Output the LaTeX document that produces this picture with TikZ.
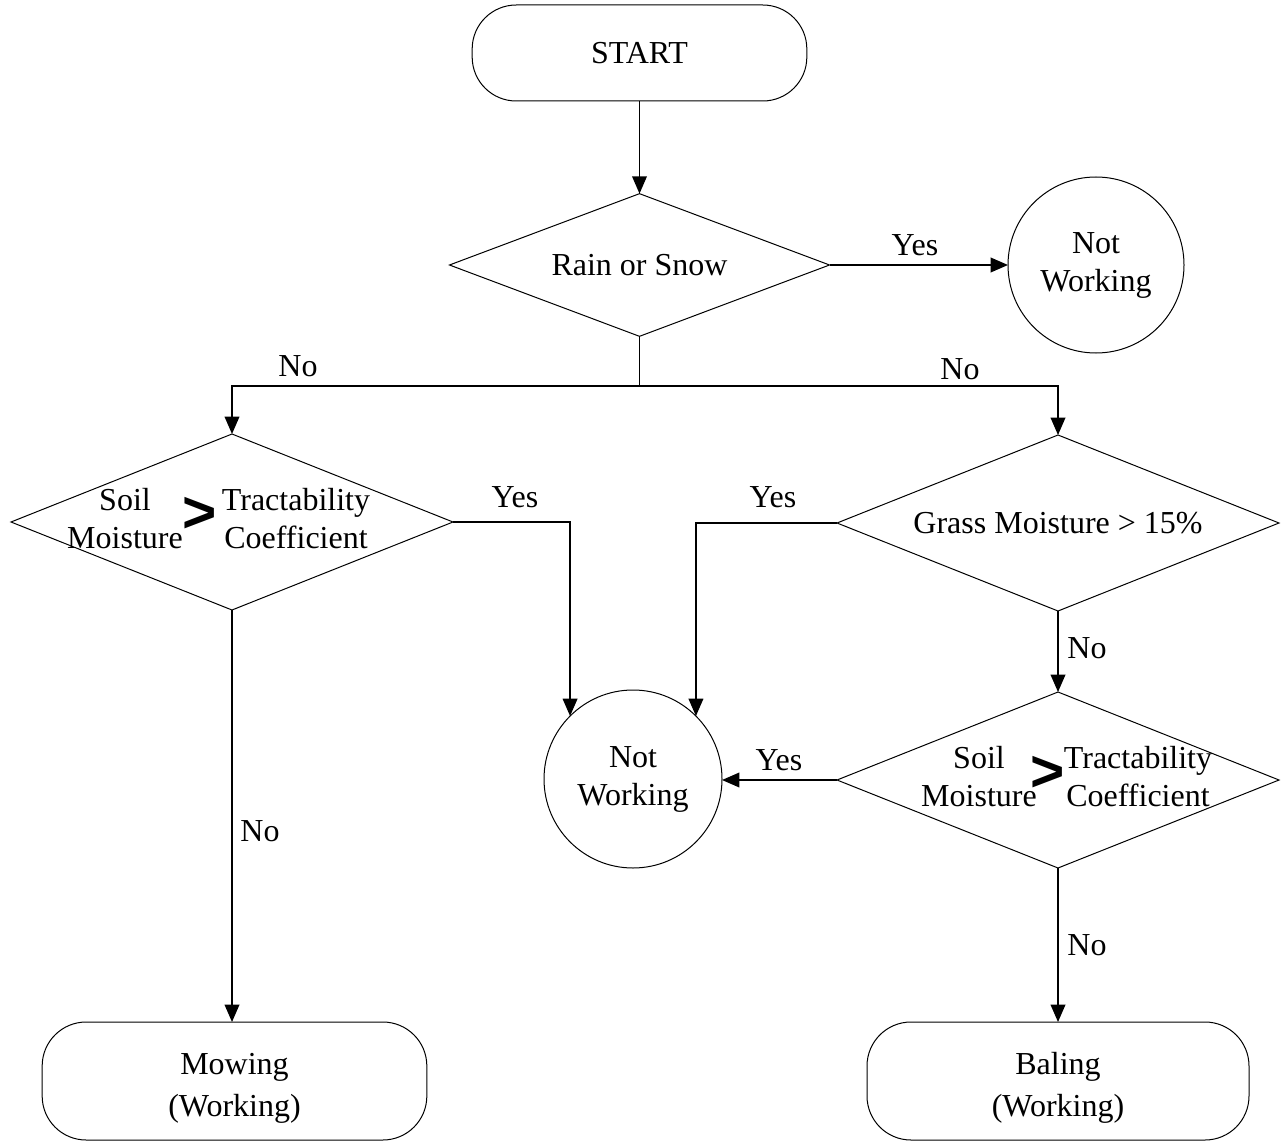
\documentclass[tikz,border=0pt]{standalone}
\usepackage{fontspec}
\setmainfont{Liberation Serif}
\newfontfamily\signfont{Liberation Sans}
\usetikzlibrary{shapes.geometric,arrows.meta}
\tikzset{every picture/.style={line width=0.75pt}}

\begin{document}
\begin{tikzpicture}[x=0.75pt,y=0.75pt,yscale=-1,xscale=1,
  font=\fontsize{24}{28.5}\selectfont,
  term/.style={draw,rounded corners=33pt,inner sep=0pt,outer sep=0pt,align=center},
  decide/.style={draw,diamond,inner sep=0pt,outer sep=0pt,minimum width=331.5pt,minimum height=132pt},
  halt/.style={draw,circle,inner sep=0pt,outer sep=0pt,align=center},
  link/.style={line width=1.1pt,-{Triangle[length=13pt,width=11pt]}},
  plain/.style={line width=1.1pt},
  gtsign/.style={font=\signfont\bfseries\fontsize{44}{44}\selectfont,inner sep=0pt,anchor=base}
]
\useasboundingbox (0,0) rectangle (1284,1148);

%Terminator: start
\node [term,minimum width=251pt,minimum height=72pt] (start) at (639.5,53) {START};
%Decision: rain or snow
\node [decide,minimum width=285pt,minimum height=107pt] (rain) at (639.5,265) {};
\node (raintext) at (rain) {Rain or Snow};
%Circle: not working (top)
\node [halt,minimum size=132pt] (nwtop) at (1096,265) {Not\\Working};

%Decision: soil moisture (left)
\node [decide] (soilL) at (232,522) {};
\node [align=center,inner sep=0pt] (soilLa) at (125,519) {Soil\\Moisture};
\node [gtsign] (soilLb) at (200,532) {>};
\node [align=center,inner sep=0pt] (soilLc) at (296,519) {Tractability\\Coefficient};

%Decision: grass moisture
\node [decide] (grass) at (1058,523) {};
\node (grasstext) at (grass) {Grass Moisture > 15\%};

%Circle: not working (middle)
\node [halt,minimum size=133.5pt] (nwmid) at (633,779) {Not\\Working};

%Decision: soil moisture (right)
\node [decide] (soilR) at (1058,780) {};
\node [align=center,inner sep=0pt] (soilRa) at (979,777) {Soil\\Moisture};
\node [gtsign] (soilRb) at (1048,791) {>};
\node [align=center,inner sep=0pt] (soilRc) at (1138,777) {Tractability\\Coefficient};

%Terminators: working
\node [term,minimum width=288.5pt,minimum height=88.5pt] (mow) at (234.5,1081) {};
\node [align=center,font=\fontsize{24}{31.5}\selectfont] (mowtext) at (234.5,1088) {Mowing\\(Working)};
\node [term,minimum width=286.5pt,minimum height=88.5pt] (bale) at (1058,1081) {};
\node [align=center,font=\fontsize{24}{31.5}\selectfont] (baletext) at (1058,1088) {Baling\\(Working)};

%Connectors
\coordinate (split) at (639.5,386);
\draw [link] (start) -- (rain);
\draw [link] (rain) -- (nwtop);
\draw [plain] (rain.south) -- (split);
\draw [link] (split) -| (soilL.north);
\draw [link] (split) -| (grass.north);
\draw [link] (soilL.east) -| (nwmid.north west);
\draw [link] (grass.west) -| (nwmid.north east);
\draw [link] (grass.south) -- (soilR.north);
\draw [link] (soilR.west) -- (soilR.west -| nwmid.east);
\draw [link] (soilL.south) -- (soilL.south |- mow.north);
\draw [link] (soilR.south) -- (bale.north);

%Labels
\node (yes1) at (915,245) {Yes};
\node (no1) at (298,366) {No};
\node (no2) at (960,369) {No};
\node (yes2) at (515,497) {Yes};
\node (yes3) at (773,497) {Yes};
\node (no3) at (1087,648) {No};
\node (yes4) at (779,760) {Yes};
\node (no4) at (260,831) {No};
\node (no5) at (1087,945) {No};

\end{tikzpicture}
\end{document}
